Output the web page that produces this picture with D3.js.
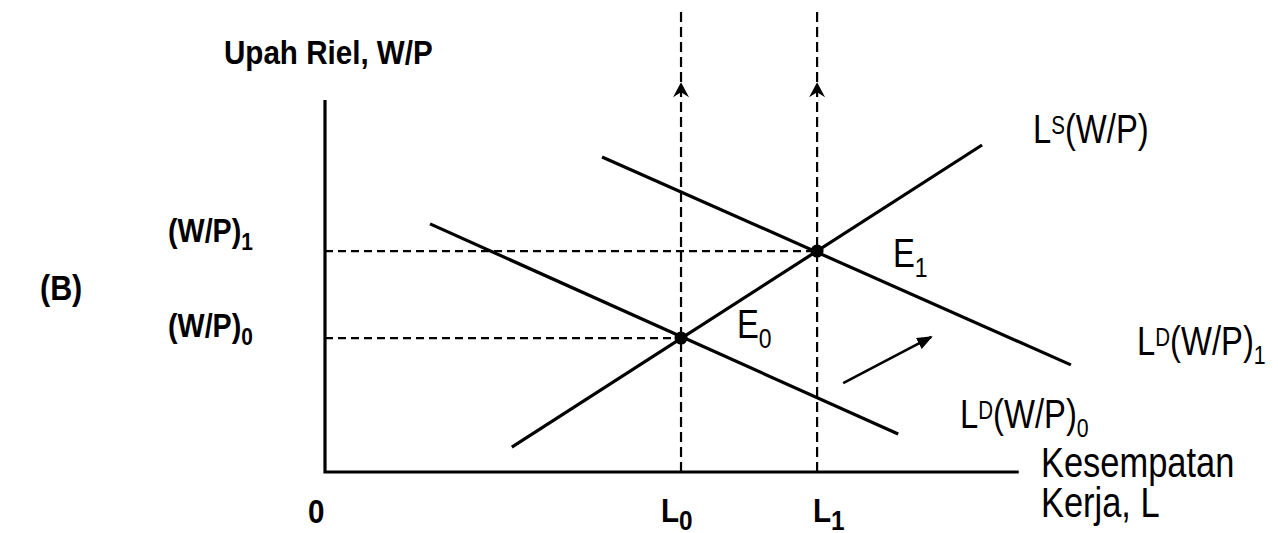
<!DOCTYPE html>
<html>
<head>
<meta charset="utf-8">
<script src="https://cdn.jsdelivr.net/npm/d3@7"></script>
<style>
  html, body { margin: 0; padding: 0; background: #fff; }
  svg { display: block; }
  .narrow { font-family: 'Liberation Sans', Arial, sans-serif; }
  .bold { font-family: 'Liberation Sans', Arial, sans-serif; font-weight: bold; }
</style>
</head>
<body>
<script>
// ---- data (in model units) ----
const laborLevels = [{name: "L0", x: 5.05}, {name: "L1", x: 6.98}];
const wageLevels = [{name: "(W/P)0", y: 3.6, x: 5.05}, {name: "(W/P)1", y: 5.94, x: 6.98}];
const supplyCurve = [[2.65, 0.67], [9.32, 8.79]];
const demandCurve0 = [[1.49, 6.67], [8.13, 1.02]];
const demandCurve1 = [[3.93, 8.47], [10.58, 2.88]];
const shiftArrow = [[7.35, 2.39], [8.6, 3.63]];
const equilibria = [{name: "E0", x: 5.05, y: 3.6}, {name: "E1", x: 6.98, y: 5.94}];
const axisX = [0, 9.84];
const axisY = [0, 10];
const dashTop = 12.42;
const arrowHeadY = 10.48;

const W = 1278, H = 533;
const svg = d3.select("body").append("svg").attr("width", W).attr("height", H);

const x = d3.scaleLinear().domain([0, 10]).range([325, 1030]);
const y = d3.scaleLinear().domain([0, 10]).range([472, 100]);
const line = d3.line().x(d => x(d[0])).y(d => y(d[1]));

// dashed verticals
svg.selectAll(".vdash").data(laborLevels).join("line")
  .attr("x1", d => x(d.x)).attr("x2", d => x(d.x))
  .attr("y1", y(0)).attr("y2", y(dashTop))
  .attr("stroke", "#000").attr("stroke-width", 2.2).attr("stroke-dasharray", "10,5");

// dashed horizontals
svg.selectAll(".hdash").data(wageLevels).join("line")
  .attr("x1", x(0)).attr("x2", d => x(d.x))
  .attr("y1", d => y(d.y)).attr("y2", d => y(d.y))
  .attr("stroke", "#000").attr("stroke-width", 2.2).attr("stroke-dasharray", "8,5");

// arrowheads on dashed verticals
svg.selectAll(".ah").data(laborLevels).join("path")
  .attr("transform", d => `translate(${x(d.x)},${y(arrowHeadY)})`)
  .attr("d", "M0,0 L8,15 L0,10 L-8,15 Z")
  .attr("fill", "#000");

// axes
svg.append("path").attr("d", line([[axisX[0], axisY[1]], [0, 0], [axisX[1], 0]]))
  .attr("fill", "none").attr("stroke", "#000").attr("stroke-width", 3.2);

// curves
[supplyCurve, demandCurve0, demandCurve1].forEach(c => {
  svg.append("path").attr("d", line(c)).attr("fill", "none")
    .attr("stroke", "#000").attr("stroke-width", 3.2);
});

// shift arrow
const defs = svg.append("defs");
defs.append("marker").attr("id", "arr").attr("viewBox", "0 0 10 10")
  .attr("refX", 9).attr("refY", 5).attr("markerWidth", 6).attr("markerHeight", 6)
  .attr("markerUnits", "strokeWidth").attr("orient", "auto")
  .append("path").attr("d", "M0,1 L10,5 L0,9 Z").attr("fill", "#000");
svg.append("path").attr("d", line(shiftArrow)).attr("fill", "none")
  .attr("stroke", "#000").attr("stroke-width", 2.6).attr("marker-end", "url(#arr)");

// equilibrium dots
svg.selectAll(".eq").data(equilibria).join("circle")
  .attr("cx", d => x(d.x)).attr("cy", d => y(d.y)).attr("r", 6.5).attr("fill", "#000");

// ---- text (condensed via horizontal scaling) ----
function label(cls, px, py, size, sx, parts, shiftAmt) {
  const t = svg.append("text").attr("class", cls)
    .attr("transform", `translate(${px},${py}) scale(${sx},1)`)
    .attr("x", 0).attr("y", 0)
    .attr("font-size", size).attr("fill", "#000");
  let cur = 0;
  const s = shiftAmt || 9;
  parts.forEach(p => {
    const ts = t.append("tspan").text(p.t);
    const shift = p.sub ? s : p.sup ? -s : 0;
    if (shift !== cur) { ts.attr("dy", shift - cur); cur = shift; }
    if (p.size) ts.attr("font-size", p.size);
  });
  return t;
}

const BS = 0.87, NS = 0.82;
label("bold", 224, 64, 34, BS, [{t: "Upah Riel, W/P"}]);
label("bold", 168, 242, 33, BS, [{t: "(W/P)"}, {t: "1", sub: true, size: 24}], 8);
label("bold", 168, 337, 33, BS, [{t: "(W/P)"}, {t: "0", sub: true, size: 24}], 8);
label("bold", 40, 300, 35, BS, [{t: "(B)"}]);
label("bold", 308, 523, 34, BS, [{t: "0"}]);
label("bold", 661, 522, 34, BS, [{t: "L"}, {t: "0", sub: true, size: 28}], 8);
label("bold", 813, 522, 34, BS, [{t: "L"}, {t: "1", sub: true, size: 28}], 8);

label("narrow", 1041, 477, 42, NS, [{t: "Kesempatan"}]);
label("narrow", 1041, 517, 42, NS, [{t: "Kerja, L"}]);
label("narrow", 1033, 143, 40, NS, [{t: "L"}, {t: "S", sup: true, size: 25}, {t: "(W/P)"}]);
label("narrow", 1137, 355, 40, NS, [{t: "L"}, {t: "D", sup: true, size: 25}, {t: "(W/P)"}, {t: "1", sub: true, size: 26}]);
label("narrow", 960, 428, 40, NS, [{t: "L"}, {t: "D", sup: true, size: 25}, {t: "(W/P)"}, {t: "0", sub: true, size: 26}]);
label("narrow", 737, 338, 40, NS, [{t: "E"}, {t: "0", sub: true, size: 28}], 10);
label("narrow", 893, 267, 40, NS, [{t: "E"}, {t: "1", sub: true, size: 28}], 10);
</script>
</body>
</html>
